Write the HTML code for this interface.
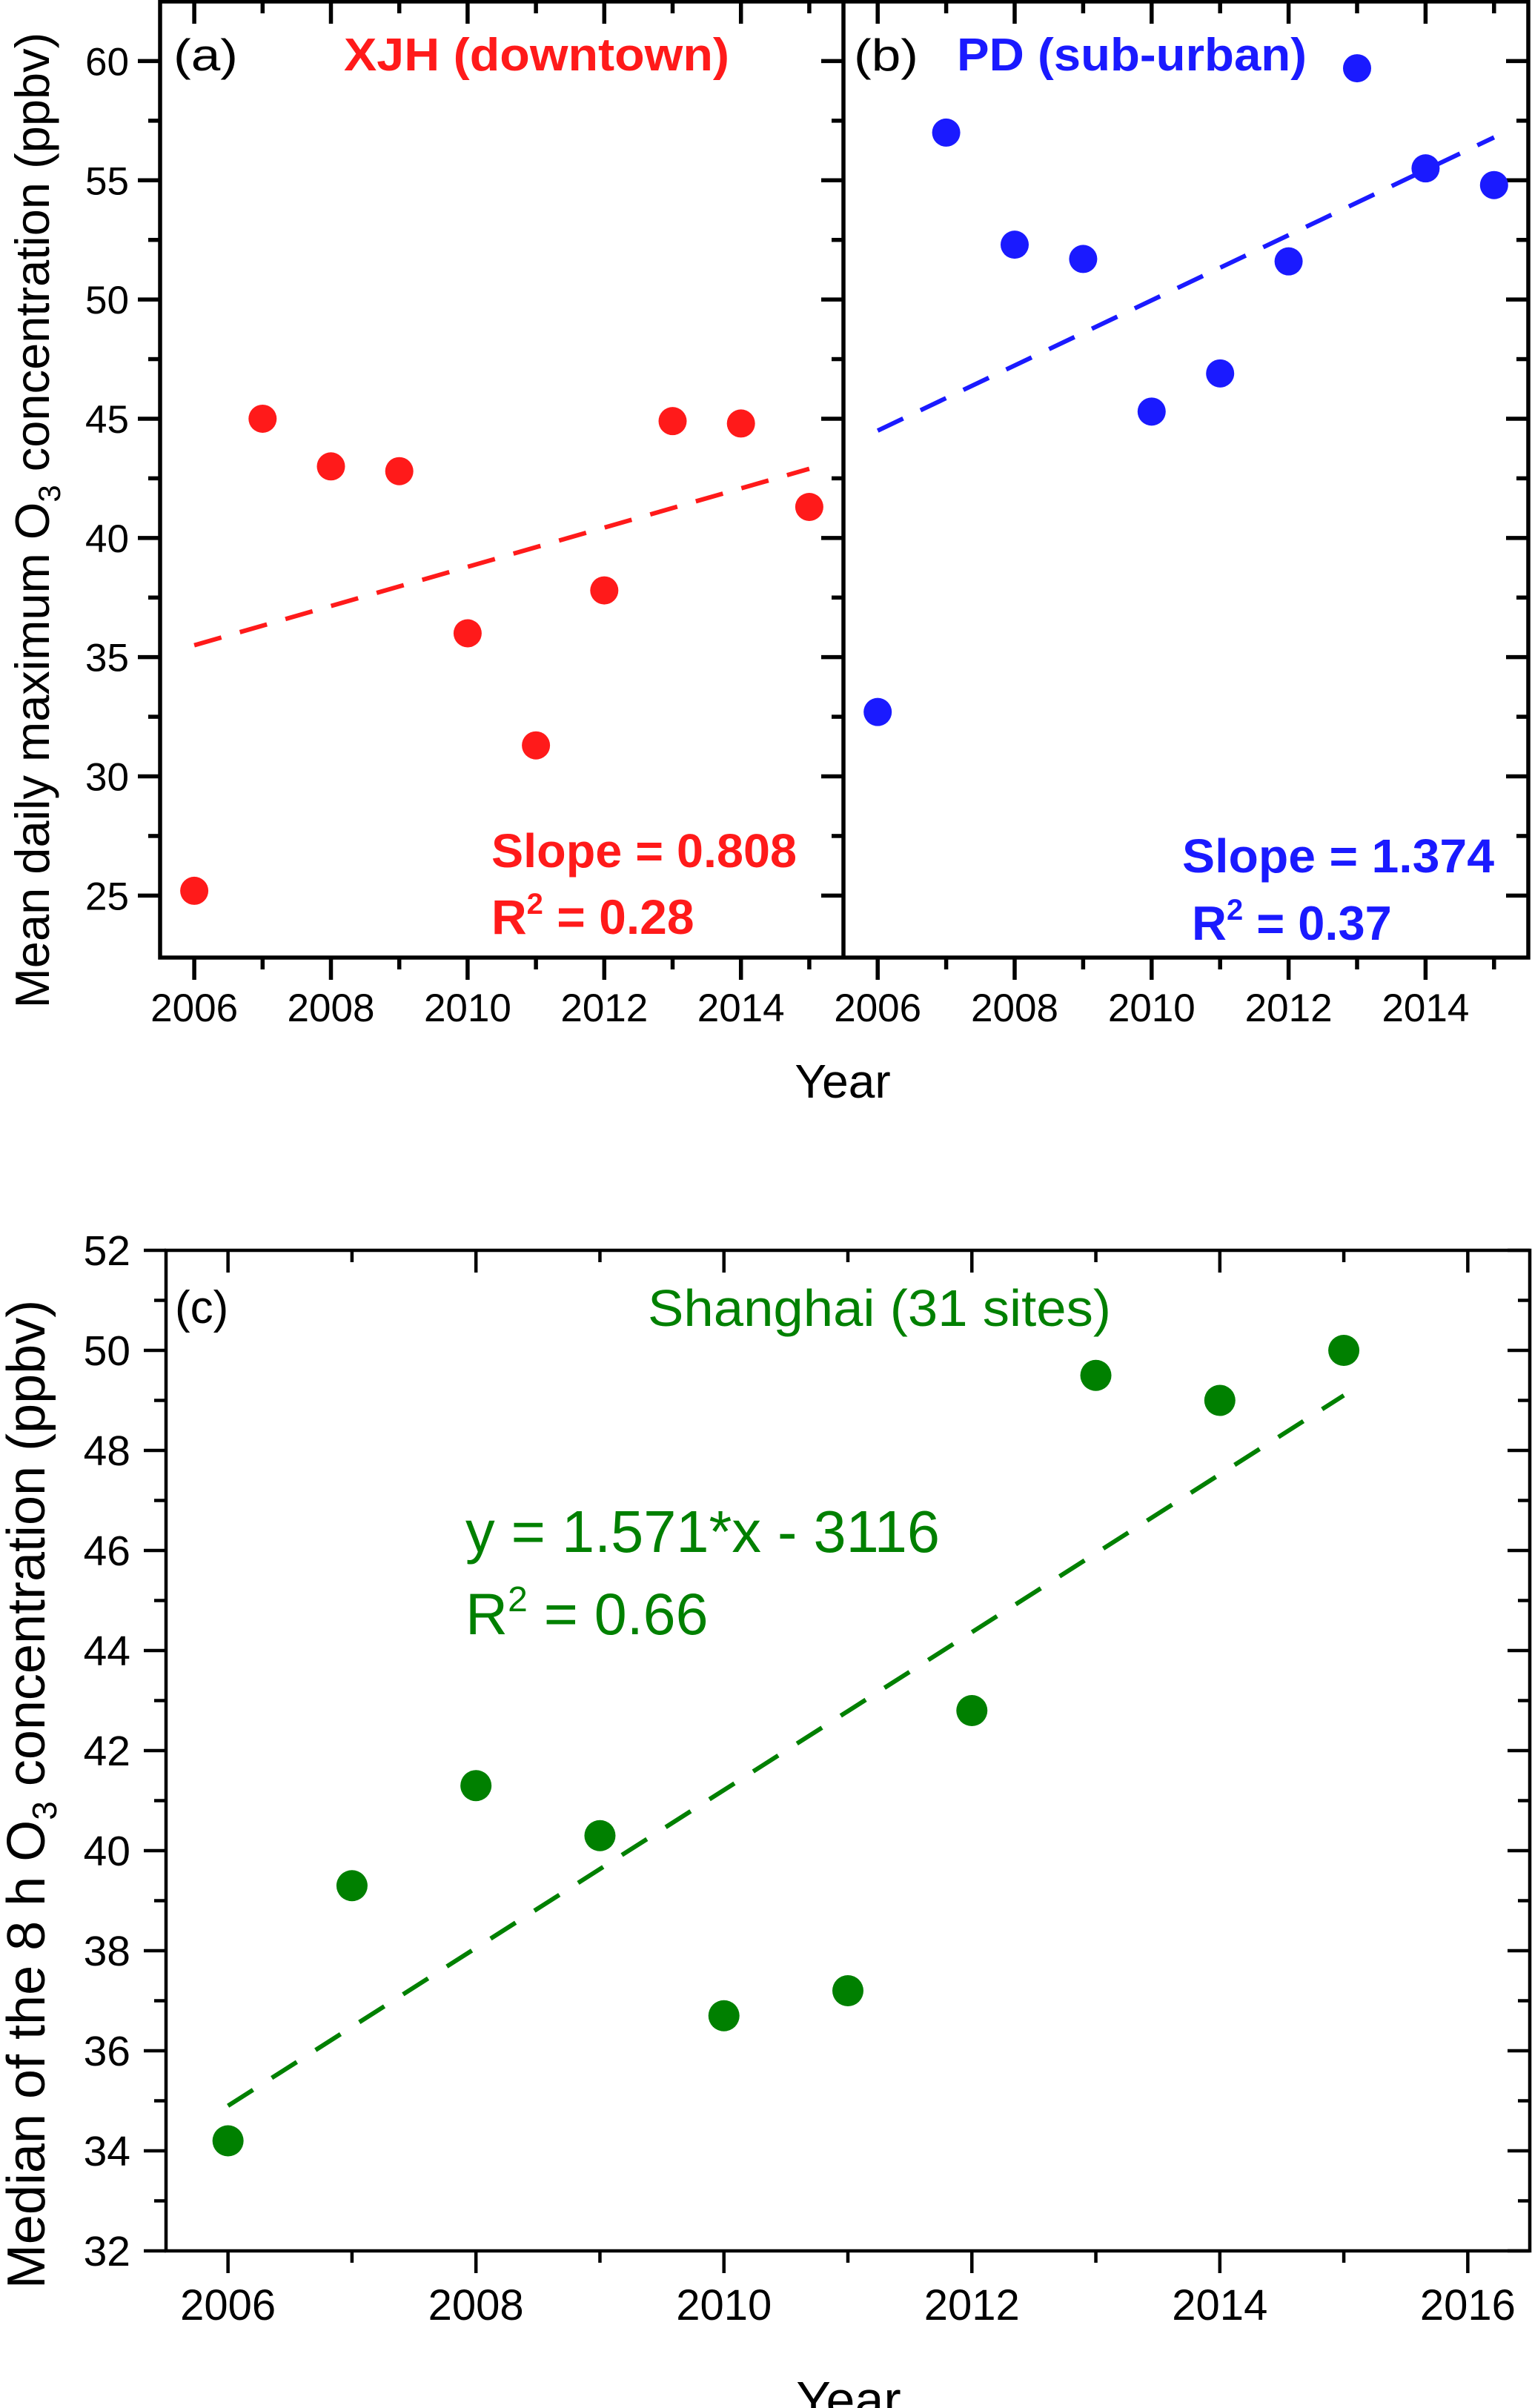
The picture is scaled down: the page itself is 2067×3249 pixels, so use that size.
<!DOCTYPE html>
<html><head><meta charset="utf-8">
<style>html,body{margin:0;padding:0;background:#fff}svg{display:block}</style>
</head><body>
<svg id="fig" xmlns="http://www.w3.org/2000/svg" width="2067" height="3249" viewBox="0 0 2067 3249"></svg>
<script>
const years = [2006,2007,2008,2009,2010,2011,2012,2013,2014,2015];
const xjhValues = [25.2,45.0,43.0,42.8,36.0,31.3,37.8,44.9,44.8,41.3];
const pdValues = [32.7,57.0,52.3,51.7,45.3,46.9,51.6,59.7,55.5,54.8];
const shValues = [34.2,39.3,41.3,40.3,36.7,37.2,42.8,49.5,49.0,50.0];
const xjhFit = [35.5,42.9];
const pdFit = [44.5,56.8];
const shFit = [34.9,49.1];
const topYTicks = [25,30,35,40,45,50,55,60];
const topXTicks = [2006,2008,2010,2012,2014];
const botYTicks = [32,34,36,38,40,42,44,46,48,50,52];
const botXTicks = [2006,2008,2010,2012,2014,2016];

const svg = document.getElementById('fig');
const NS = 'http://www.w3.org/2000/svg';
function mk(tag, attrs, parent){const e=document.createElementNS(NS,tag);for(const k in attrs)e.setAttribute(k,attrs[k]);(parent||svg).appendChild(e);return e;}
function txt(s, attrs, parent){const e=mk('text',attrs,parent);e.textContent=s;return e;}
const F='"Liberation Sans", Arial, sans-serif';
const SG='spacingAndGlyphs';

function lin(d0,d1,r0,r1){return v=>r0+(v-d0)*(r1-r0)/(d1-d0);}

const tTop=2, tBot=1292;
const yT = lin(22.4,62.5,tBot,tTop);
const xA = lin(2005.5,2015.5,216,1138);
const xB = lin(2005.5,2015.5,1138,2062);

function topPanel(name, x, x0, x1, vals, fit, color, leftOut){
  const g = mk('g',{});
  
  
  for(let v=25; v<=60; v+=2.5){
    const major = Number.isInteger(v/5);
    const L = major?30:16;
    const y = yT(v);
    if(leftOut) mk('line',{x1:x0-L,y1:y,x2:x0,y2:y,stroke:'#000','stroke-width':5.5},g);
    mk('line',{x1:x1-L,y1:y,x2:x1,y2:y,stroke:'#000','stroke-width':5.5},g);
  }
  for(let yr=2006; yr<=2015; yr++){
    const major = yr%2===0;
    const L = major?30:16;
    const xx = x(yr);
    mk('line',{x1:xx,y1:tBot,x2:xx,y2:tBot+L,stroke:'#000','stroke-width':5.5},g);
    mk('line',{x1:xx,y1:tTop,x2:xx,y2:tTop+L,stroke:'#000','stroke-width':5.5},g);
  }
  topXTicks.forEach(yr=>{
    const t=txt(String(yr),{x:x(yr),y:1378,'font-family':F,'font-size':53,'text-anchor':'middle',fill:'#000'},g);
    
    
  });
  const fl = mk('line',{x1:x(2006),y1:yT(fit[0]),x2:x(2015),y2:yT(fit[1]),stroke:color,'stroke-width':6,'stroke-dasharray':'38 26'},g);
  
  
  vals.forEach((v,i)=>{
    const c = mk('circle',{cx:x(years[i]),cy:yT(v),r:19,fill:color},g);
    
    
  });
  return g;
}
topPanel('panel-a-xjh', xA, 216, 1138, xjhValues, xjhFit, '#ff1a1a', true);
topPanel('panel-b-pd', xB, 1138, 2062, pdValues, pdFit, '#1a1aff', false);
mk('rect',{x:216,y:tTop,width:2062-216,height:tBot-tTop,fill:'none',stroke:'#000','stroke-width':5.5});
mk('line',{x1:1138,y1:tTop,x2:1138,y2:tBot,stroke:'#000','stroke-width':5.5});
topYTicks.forEach(v=>{
  const t=txt(String(v),{x:174,y:yT(v)+19,'font-family':F,'font-size':53,'text-anchor':'end',fill:'#000'});
  
  
});
let t;
t=txt('(a)',{x:234,y:95,'font-family':F,'font-size':60,fill:'#000',textLength:87,lengthAdjust:SG});

t=txt('XJH (downtown)',{x:464,y:95,'font-family':F,'font-size':62,'font-weight':'bold',fill:'#ff1a1a',textLength:520,lengthAdjust:SG});

t=txt('Slope = 0.808',{x:663,y:1170,'font-family':F,'font-size':64,'font-weight':'bold',fill:'#ff1a1a',textLength:412,lengthAdjust:SG});

t=mk('text',{x:663,y:1260,'font-family':F,'font-size':66,'font-weight':'bold',fill:'#ff1a1a'});
t.innerHTML='R<tspan dy="-27" font-size="40">2</tspan><tspan dy="27"> = 0.28</tspan>';

t=txt('(b)',{x:1152,y:95,'font-family':F,'font-size':60,fill:'#000',textLength:87,lengthAdjust:SG});

t=txt('PD (sub-urban)',{x:1291,y:95,'font-family':F,'font-size':62,'font-weight':'bold',fill:'#1a1aff',textLength:472,lengthAdjust:SG});

t=txt('Slope = 1.374',{x:1595,y:1177,'font-family':F,'font-size':64,'font-weight':'bold',fill:'#1a1aff',textLength:421,lengthAdjust:SG});

t=mk('text',{x:1608,y:1268,'font-family':F,'font-size':65,'font-weight':'bold',fill:'#1a1aff'});
t.innerHTML='R<tspan dy="-27" font-size="40">2</tspan><tspan dy="27"> = 0.37</tspan>';

t=txt('Year',{x:1137,y:1481,'font-family':F,'font-size':64,'text-anchor':'middle',fill:'#000'});

t=mk('text',{x:0,y:0,'font-family':F,'font-size':65,'text-anchor':'middle',fill:'#000',transform:'translate(66,702) rotate(-90)'});
t.innerHTML='Mean daily maximum O<tspan dy="15" font-size="42">3</tspan><tspan dy="-15"> concentration (ppbv)</tspan>';


const cL=224,cR=2064,cT=1687,cB=3037;
const xC = lin(2005.5,2016.5,cL,cR);
const yC = lin(32,52,cB,cT);
const gc = mk('g',{});


for(let v=32; v<=52; v++){
  const major=v%2===0, L=major?30:16, y=yC(v);
  mk('line',{x1:cL-L,y1:y,x2:cL,y2:y,stroke:'#000','stroke-width':4.5},gc);
  mk('line',{x1:cR-L,y1:y,x2:cR,y2:y,stroke:'#000','stroke-width':4.5},gc);
}
for(let yr=2006; yr<=2016; yr++){
  const major=yr%2===0, L=major?30:16, xx=xC(yr);
  mk('line',{x1:xx,y1:cB,x2:xx,y2:cB+L,stroke:'#000','stroke-width':4.5},gc);
  mk('line',{x1:xx,y1:cT,x2:xx,y2:cT+L,stroke:'#000','stroke-width':4.5},gc);
}
mk('rect',{x:cL,y:cT,width:cR-cL,height:cB-cT,fill:'none',stroke:'#000','stroke-width':4.5},gc);
botYTicks.forEach(v=>{
  const e=txt(String(v),{x:176,y:yC(v)+20,'font-family':F,'font-size':57,'text-anchor':'end',fill:'#000'},gc);
  
  
});
botXTicks.forEach(yr=>{
  const e=txt(String(yr),{x:xC(yr),y:3130,'font-family':F,'font-size':58,'text-anchor':'middle',fill:'#000'},gc);
  
  
});
const fc = mk('line',{x1:xC(2006),y1:yC(shFit[0]),x2:xC(2015),y2:yC(shFit[1]),stroke:'#008000','stroke-width':6,'stroke-dasharray':'40 30'},gc);


shValues.forEach((v,i)=>{
  const c=mk('circle',{cx:xC(years[i]),cy:yC(v),r:21,fill:'#008000'},gc);
  
  
});
t=txt('(c)',{x:236,y:1785,'font-family':F,'font-size':62,fill:'#000'});

t=txt('Shanghai (31 sites)',{x:874,y:1789,'font-family':F,'font-size':70,fill:'#008000',textLength:625,lengthAdjust:SG});

t=txt('y = 1.571*x - 3116',{x:628,y:2094,'font-family':F,'font-size':80,fill:'#008000',textLength:640,lengthAdjust:SG});

t=mk('text',{x:628,y:2205,'font-family':F,'font-size':79,fill:'#008000'});
t.innerHTML='R<tspan dy="-31" font-size="48">2</tspan><tspan dy="31"> = 0.66</tspan>';

t=txt('Year',{x:1145,y:3262,'font-family':F,'font-size':70,'text-anchor':'middle',fill:'#000'});

t=mk('text',{x:0,y:0,'font-family':F,'font-size':72,'text-anchor':'middle',fill:'#000',transform:'translate(60,2421) rotate(-90)'});
t.innerHTML='Median of the 8 h O<tspan dy="16" font-size="46">3</tspan><tspan dy="-16"> concentration (ppbv)</tspan>';

</script>
</body></html>
